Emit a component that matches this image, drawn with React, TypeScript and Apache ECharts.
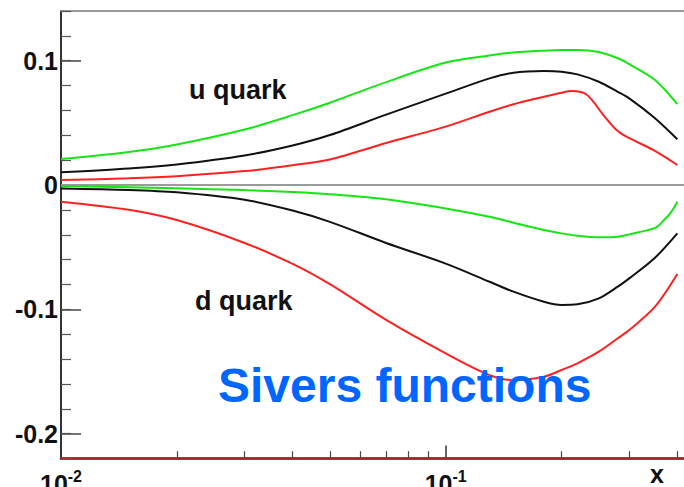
import React, { useEffect, useRef } from "react";
import * as echarts from "echarts";

// Axis ranges (x is logarithmic, drawn on a log10 value axis)
const xMin = 0.01;
const xMax = 0.4213;
const yMin = -0.22;
const yMax = 0.14;

// Tick positions
const xDecades = [0.01, 0.1];
const xMinorTicks = [0.02, 0.03, 0.04, 0.05, 0.06, 0.07, 0.08, 0.09, 0.2, 0.3, 0.4];
const yMajorTicks = [-0.2, -0.1, 0, 0.1];

// Shared x sampling of the curves
const xCommon = [0.01, 0.015, 0.02, 0.03, 0.04, 0.05, 0.07, 0.1, 0.13, 0.15, 0.18, 0.2, 0.22, 0.25, 0.28, 0.3, 0.35, 0.4];

// u quark: upper band (green), central (black), lower band (red)
const uGreen = [0.0209, 0.0266, 0.0326, 0.0446, 0.0562, 0.0662, 0.0828, 0.0985, 0.1042, 0.1066, 0.1081, 0.1086, 0.1086, 0.107, 0.102, 0.0973, 0.0845, 0.065];
const uBlack = [0.0102, 0.0133, 0.0166, 0.0238, 0.0318, 0.0402, 0.0566, 0.0735, 0.0858, 0.0904, 0.0917, 0.0912, 0.089, 0.0831, 0.075, 0.0697, 0.0537, 0.0368];
const uRedX = [0.01, 0.015, 0.02, 0.03, 0.04, 0.05, 0.07, 0.1, 0.13, 0.15, 0.18, 0.2, 0.213, 0.233, 0.257, 0.278, 0.295, 0.346, 0.4];
const uRed = [0.004, 0.0054, 0.0071, 0.0112, 0.0159, 0.0206, 0.0338, 0.047, 0.059, 0.065, 0.071, 0.0743, 0.0756, 0.0724, 0.0563, 0.0442, 0.0389, 0.0282, 0.0161];

// d quark
const dGreenX = [0.01, 0.015, 0.02, 0.03, 0.04, 0.05, 0.07, 0.1, 0.13, 0.15, 0.18, 0.2, 0.22, 0.25, 0.28, 0.3, 0.35, 0.37, 0.385, 0.4];
const dGreen = [-0.0008, -0.0018, -0.0026, -0.0041, -0.0057, -0.0074, -0.0114, -0.0188, -0.0255, -0.0303, -0.0362, -0.0389, -0.0408, -0.0421, -0.0416, -0.0397, -0.0345, -0.028, -0.022, -0.0134];
const dBlack = [-0.0027, -0.0039, -0.0058, -0.0118, -0.0205, -0.0296, -0.0466, -0.0632, -0.0778, -0.0858, -0.0939, -0.0965, -0.096, -0.0912, -0.0818, -0.0751, -0.0585, -0.0389];
const dRed = [-0.0134, -0.0199, -0.0282, -0.0466, -0.0635, -0.0798, -0.1085, -0.1354, -0.1529, -0.1569, -0.1542, -0.1488, -0.1434, -0.1341, -0.1233, -0.1167, -0.0979, -0.0716];

const FONT = '"Liberation Sans", Arial, Helvetica, sans-serif';
const GREEN = "#14e614";
const RED = "#ff2020";
const BLACK = "#111111";

const lg = (v: number) => Math.log10(v);
const pairs = (xs: number[], ys: number[]) => xs.map((x, i) => [lg(x), ys[i]]);

function curve(name: string, xs: number[], ys: number[], color: string) {
  return {
    name,
    type: "line",
    data: pairs(xs, ys),
    smooth: 0.3,
    showSymbol: false,
    symbol: "none",
    silent: true,
    z: 3,
    lineStyle: { color, width: 2 },
  };
}

export default function App() {
  const ref = useRef<HTMLDivElement>(null);

  useEffect(() => {
    if (!ref.current) return;
    const chart = echarts.init(ref.current, null, { renderer: "svg" });

    const xBase = {
      type: "value",
      min: lg(xMin),
      max: lg(xMax),
      splitLine: { show: false },
    };
    const yBase = {
      type: "value",
      min: yMin,
      max: yMax,
      splitLine: { show: false },
    };

    chart.setOption({
      animation: false,
      backgroundColor: "#ffffff",
      grid: {
        left: 61,
        top: 11,
        right: -2,
        bottom: 28.5,
        containLabel: false,
        outerBoundsMode: "none",
      },
      xAxis: [
        {
          ...xBase,
          position: "bottom",
          z: 0,
          axisLine: { show: true, onZero: false, lineStyle: { color: "#222", width: 2.5 } },
          axisTick: {
            show: true,
            inside: true,
            length: 13,
            customValues: xDecades.map(lg),
            lineStyle: { color: "#333", width: 1.5 },
          },
          axisLabel: {
            show: true,
            customValues: xDecades.map(lg),
            margin: 10,
            formatter: (v: number) => `{b|10}{s|${Math.round(v)}}`,
            rich: {
              b: { fontSize: 25, fontWeight: "bold", fontFamily: FONT, color: BLACK, verticalAlign: "bottom" },
              s: { fontSize: 16, fontWeight: "bold", fontFamily: FONT, color: BLACK, verticalAlign: "bottom", padding: [0, 0, 12, 0] },
            },
          },
        },
        {
          ...xBase,
          position: "bottom",
          offset: -1.2,
          z: 2,
          axisLine: { show: true, onZero: false, lineStyle: { color: "#e02020", width: 1.6 } },
          axisTick: {
            show: true,
            inside: true,
            length: 6,
            customValues: xMinorTicks.map(lg),
            lineStyle: { color: "#444", width: 1.2 },
          },
          axisLabel: { show: false },
        },
        {
          ...xBase,
          position: "top",
          axisLine: { show: true, onZero: false, lineStyle: { color: "#999", width: 2 } },
          axisTick: { show: false },
          axisLabel: { show: false },
        },
      ],
      yAxis: [
        {
          ...yBase,
          position: "left",
          axisLine: { show: true, onZero: false, lineStyle: { color: "#333", width: 2 } },
          axisTick: {
            show: true,
            inside: true,
            length: 20,
            customValues: yMajorTicks,
            lineStyle: { color: "#444", width: 1.5 },
          },
          axisLabel: {
            show: true,
            customValues: yMajorTicks,
            margin: 3,
            fontSize: 25,
            fontWeight: "bold",
            fontFamily: FONT,
            color: BLACK,
            formatter: (v: number) => (Math.abs(v) < 1e-9 ? "0" : v.toFixed(1)),
          },
        },
        {
          ...yBase,
          interval: 0.02,
          position: "left",
          axisLine: { show: false, onZero: false },
          axisTick: { show: true, inside: true, length: 10, lineStyle: { color: "#555", width: 1.2 } },
          axisLabel: { show: false },
        },
      ],
      graphic: [
        {
          type: "text",
          x: 189,
          y: 90,
          z: 10,
          style: { text: "u quark", font: `bold 27px ${FONT}`, fill: BLACK, align: "left", verticalAlign: "middle" },
        },
        {
          type: "text",
          x: 195,
          y: 301,
          z: 10,
          style: { text: "d quark", font: `bold 27px ${FONT}`, fill: BLACK, align: "left", verticalAlign: "middle" },
        },
        {
          type: "text",
          x: 218,
          y: 385,
          z: 10,
          style: { text: "Sivers functions", font: `bold 48px ${FONT}`, fill: "#0066ff", align: "left", verticalAlign: "middle" },
        },
        {
          type: "text",
          x: 650,
          y: 474,
          z: 10,
          style: { text: "x", font: `bold 25px ${FONT}`, fill: BLACK, align: "left", verticalAlign: "middle" },
        },
      ],
      series: [
        {
          name: "zero",
          type: "line",
          data: [[lg(xMin), 0], [lg(xMax), 0]],
          showSymbol: false,
          symbol: "none",
          silent: true,
          z: 1,
          lineStyle: { color: "#9a9a9a", width: 2 },
        },
        curve("u quark upper", xCommon, uGreen, GREEN),
        curve("u quark", xCommon, uBlack, BLACK),
        curve("u quark lower", uRedX, uRed, RED),
        curve("d quark upper", dGreenX, dGreen, GREEN),
        curve("d quark", xCommon, dBlack, BLACK),
        curve("d quark lower", xCommon, dRed, RED),
      ],
    });

    return () => chart.dispose();
  }, []);

  return (
    <div
      ref={ref}
      style={{ position: "fixed", left: 0, top: 0, width: 684, height: 487, background: "#fff" }}
    />
  );
}
